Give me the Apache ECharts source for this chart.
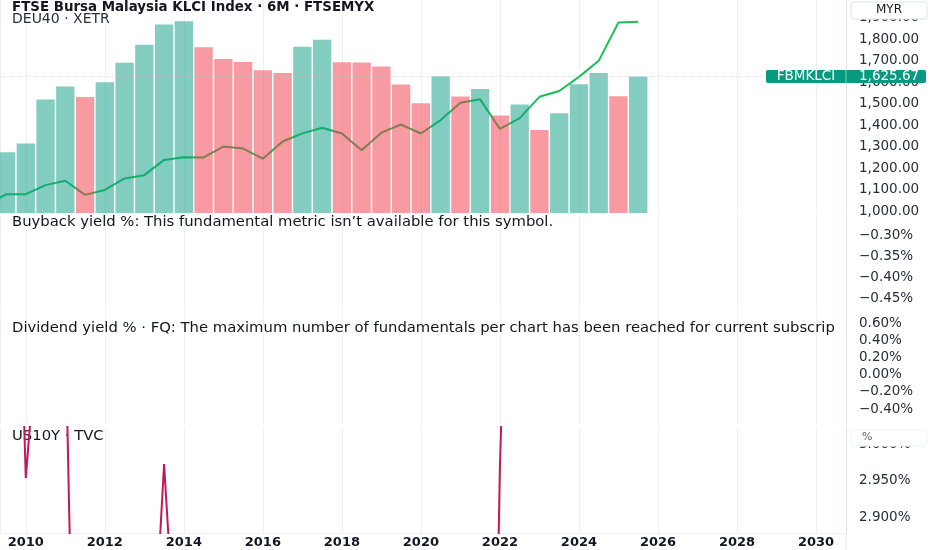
<!DOCTYPE html>
<html>
<head>
<meta charset="utf-8">
<script src="https://cdn.jsdelivr.net/npm/echarts@6/dist/echarts.min.js"></script>
<style>
html, body { margin: 0; padding: 0; background: #fff; }
#chart { width: 932px; height: 550px; }
</style>
</head>
<body>
<div id="chart"></div>
<script>
// half-year periods, each bar sits at the start of its period
var periods = ['2009H2', '2010H1', '2010H2', '2011H1', '2011H2', '2012H1', '2012H2', '2013H1', '2013H2',
  '2014H1', '2014H2', '2015H1', '2015H2', '2016H1', '2016H2', '2017H1', '2017H2', '2018H1', '2018H2',
  '2019H1', '2019H2', '2020H1', '2020H2', '2021H1', '2021H2', '2022H1', '2022H2', '2023H1', '2023H2',
  '2024H1', '2024H2', '2025H1', '2025H2'];
// FBMKLCI closes (MYR)
var klciClose = [1272.8, 1314.0, 1518.9, 1579.1, 1530.7, 1599.2, 1689.0, 1773.5, 1867.0,
  1882.7, 1761.3, 1706.6, 1692.5, 1654.1, 1641.7, 1763.7, 1796.8, 1691.5, 1690.6,
  1672.1, 1588.8, 1501.0, 1627.2, 1532.6, 1567.5, 1444.2, 1495.5, 1376.7, 1454.7,
  1590.1, 1642.3, 1533.5, 1625.67];
// DEU40 overlay, one extra period before the first bar
var daxPeriods = ['2009H1'].concat(periods);
var daxClose = [4810, 5957, 5966, 6914, 7376, 5898, 6416, 7612, 7959, 9552,
  9833, 9806, 10945, 10743, 9680, 11481, 12325, 12918, 12306, 10559,
  12399, 13249, 12311, 13719, 15531, 15885, 12784, 13924, 16148, 16752,
  18235, 19909, 23910, 24000];
// US10Y yield %
var us10y = [3.84, 2.954, 3.29, 3.16, 1.88, 1.65, 1.76, 2.49, 2.973,
  2.53, 2.17, 2.35, 2.27, 1.47, 2.44, 2.30, 2.41, 2.86, 2.68,
  2.00, 1.92, 0.66, 0.92, 1.47, 1.51, 2.97, 3.87, 3.84, 3.88,
  4.40, 4.57, 4.23, 4.10];

var lastLabel = 'FBMKLCI';
var titleText = 'FTSE Bursa Malaysia KLCI Index · 6M · FTSEMYX';
var overlayText = 'DEU40 · XETR';
var buybackText = 'Buyback yield %: This fundamental metric isn\u2019t available for this symbol.';
var dividendText = 'Dividend yield % · FQ: The maximum number of fundamentals per chart has been reached for current subscription';
var usText = 'US10Y · TVC';

function toYear(p) {
  return parseInt(p, 10) + (p.slice(-1) === '2' ? 0.5 : 0);
}
function pairs(ps, vs) {
  return vs.map(function (v, i) { return [toYear(ps[i]), v]; });
}
function money(v) {
  return v.toFixed(2).replace(/\B(?=(\d{3})+(?!\d))/g, ',');
}
function pct(d) {
  return function (v) {
    if (Math.abs(v) < 1e-9) v = 0;
    var s = Math.abs(v).toFixed(d) + '%';
    return v < 0 ? '\u2212' + s : s;
  };
}

var FONT = 'DejaVu Sans';
var TXT = '#131722';
var xMin = 2009.347, xMax = 2030.759;

var chart = echarts.init(document.getElementById('chart'));

function xAxisFor(idx, showLabels) {
  return {
    type: 'value', gridIndex: idx, min: xMin, max: xMax, splitNumber: 10,
    axisLine: { show: showLabels, lineStyle: { color: '#eef0f4' } },
    axisTick: { show: false },
    axisLabel: {
      show: showLabels, showMinLabel: false, showMaxLabel: false, margin: 3,
      color: TXT, fontFamily: FONT, fontSize: 13, fontWeight: 'bold',
      formatter: function (v) { return Math.abs(v - Math.round(v)) < 1e-6 ? String(Math.round(v)) : ''; }
    },
    splitLine: { show: true, lineStyle: { color: '#eef0f4' } }
  };
}
function yAxisFor(idx, min, max, split, fmt) {
  return {
    type: 'value', gridIndex: idx, position: 'right', min: min, max: max, splitNumber: split,
    axisLine: { show: true, lineStyle: { color: '#e0e3eb' } },
    axisTick: { show: false },
    splitLine: { show: false },
    axisLabel: {
      showMinLabel: false, showMaxLabel: false, margin: 13,
      color: '#2a2e39', fontFamily: FONT, fontSize: 13.5, formatter: fmt
    }
  };
}

var option = {
  animation: false,
  backgroundColor: '#fff',
  title: [
    { text: titleText, left: 12, top: 1, padding: 0,
      textStyle: { fontFamily: FONT, fontSize: 13.4, fontWeight: 'bold', color: TXT } },
    { text: overlayText, left: 12, top: 12, padding: 0,
      textStyle: { fontFamily: FONT, fontSize: 14, fontWeight: 'normal', color: '#2a2e39' } },
    { text: buybackText, left: 12, top: 215, padding: 0,
      textStyle: { fontFamily: FONT, fontSize: 14.8, fontWeight: 'normal', color: TXT } },
    { text: dividendText, left: 12, top: 321, padding: 0,
      textStyle: { fontFamily: FONT, fontSize: 14.8, fontWeight: 'normal', color: TXT,
        width: 834, overflow: 'truncate', ellipsis: '' } },
    { text: usText, left: 12, top: 429, padding: 0, z: 0,
      textStyle: { fontFamily: FONT, fontSize: 14.8, fontWeight: 'normal', color: TXT } }
  ],
  grid: [
    { left: 0, right: 86, top: 0, height: 213 },
    { left: 0, right: 86, top: 215, height: 96 },
    { left: 0, right: 86, top: 313, height: 111 },
    { left: 0, right: 86, top: 427, height: 106 }
  ],
  xAxis: [xAxisFor(0, false), xAxisFor(1, false), xAxisFor(2, false), xAxisFor(3, true)],
  yAxis: [
    yAxisFor(0, 990.7, 1981.4, 10, money),
    { type: 'value', gridIndex: 0, min: 4002, max: 26269, show: false, splitLine: { show: false } },
    yAxisFor(1, -0.4782, -0.2531, 4, pct(2)),
    yAxisFor(2, -0.5744, 0.7163, 6, pct(2)),
    yAxisFor(3, 2.8797, 3.023, 3, pct(3))
  ],
  series: [
    {
      name: 'DEU40', type: 'line', xAxisIndex: 0, yAxisIndex: 1, z: 1,
      data: pairs(daxPeriods, daxClose), symbol: 'none', clip: true,
      lineStyle: { color: '#19c05a', width: 2 }
    },
    {
      name: 'FBMKLCI', type: 'bar', xAxisIndex: 0, yAxisIndex: 0, z: 2,
      data: pairs(periods, klciClose), barWidth: 18.3, clip: true,
      itemStyle: {
        color: function (p) {
          var i = p.dataIndex;
          var up = i === 0 || klciClose[i] >= klciClose[i - 1];
          return up ? 'rgba(8,153,129,0.5)' : 'rgba(242,54,69,0.5)';
        }
      },
      markLine: {
        silent: true, symbol: 'none', label: { show: false },
        lineStyle: { color: '#c3c6ce', type: 'dotted', width: 1, opacity: 0.45 },
        data: [{ yAxis: klciClose[klciClose.length - 1] }]
      }
    },
    { name: 'Buyback', type: 'line', xAxisIndex: 1, yAxisIndex: 2, data: [] },
    { name: 'Dividend', type: 'line', xAxisIndex: 2, yAxisIndex: 3, data: [] },
    {
      name: 'US10Y', type: 'line', xAxisIndex: 3, yAxisIndex: 4, z: 3,
      data: pairs(periods, us10y), symbol: 'none', clip: true,
      lineStyle: { color: '#c2185b', width: 2 }
    }
  ]
};
chart.setOption(option);

// last-price badge, pane unit boxes, price-scale border down to the bottom
var last = klciClose[klciClose.length - 1];
var py = chart.convertToPixel({ yAxisIndex: 0 }, last);
chart.setOption({
  graphic: [
    { type: 'line', z: 50, shape: { x1: 846, y1: 533, x2: 846, y2: 550 },
      style: { stroke: '#e0e3eb', lineWidth: 1 } },
    { type: 'rect', z: 100, shape: { x: 851, y: 2, width: 76, height: 17, r: 3 },
      style: { fill: '#fff', stroke: '#e0e3eb', lineWidth: 1 } },
    { type: 'text', z: 101, x: 889, y: 10,
      style: { text: 'MYR', fill: TXT, font: '12px "DejaVu Sans"', align: 'center', verticalAlign: 'middle' } },
    { type: 'rect', z: 100, shape: { x: 851, y: 430, width: 76, height: 16, r: 3 },
      style: { fill: '#fff', stroke: '#f0f3fa', lineWidth: 1 } },
    { type: 'text', z: 101, x: 862, y: 437,
      style: { text: '%', fill: '#5d606b', font: '11px "DejaVu Sans"', align: 'left', verticalAlign: 'middle' } },
    { type: 'rect', z: 100, shape: { x: 766, y: py - 6.5, width: 160, height: 13, r: 2 },
      style: { fill: '#089981' } },
    { type: 'line', z: 101, shape: { x1: 846, y1: py - 6.5, x2: 846, y2: py + 6.5 },
      style: { stroke: 'rgba(255,255,255,0.5)', lineWidth: 1 } },
    { type: 'text', z: 101, x: 806, y: py,
      style: { text: lastLabel, fill: '#fff', font: '13.5px "DejaVu Sans"', align: 'center', verticalAlign: 'middle' } },
    { type: 'text', z: 101, x: 859, y: py,
      style: { text: money(last), fill: '#fff', font: '13.5px "DejaVu Sans"', align: 'left', verticalAlign: 'middle' } }
  ]
});
</script>
</body>
</html>
